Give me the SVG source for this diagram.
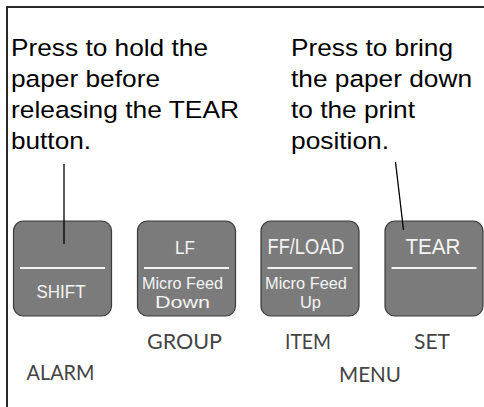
<svg xmlns="http://www.w3.org/2000/svg" width="484" height="407" viewBox="0 0 484 407">
<style>
.note{font-family:"Liberation Sans",Arial,sans-serif;font-size:24.5px;fill:#000}
.btn{fill:#7b7b7b;stroke:#3a3a3a;stroke-width:1.2}
.div{stroke:#f2f2f2;stroke-width:1.8}
.bt{font-family:"Liberation Sans",Arial,sans-serif;fill:#f4f4f4;text-anchor:middle}
.lbl{font-family:Lato,"Liberation Sans",sans-serif;font-size:20.5px;fill:#444;text-anchor:middle}
.con{stroke:#000;stroke-width:1.3;fill:none}
</style>
<rect width="484" height="407" fill="#fff"/>
<g id="frame">
<path d="M7 407 V7 H484" fill="none" stroke="#2a2a2a" stroke-width="2"/>
</g>
<g id="note-shift">
<text class="note" x="11" y="55.5" textLength="197" lengthAdjust="spacingAndGlyphs">Press to hold the</text>
<text class="note" x="11" y="86.5" textLength="149" lengthAdjust="spacingAndGlyphs">paper before</text>
<text class="note" x="11" y="117.5" textLength="228" lengthAdjust="spacingAndGlyphs">releasing the TEAR</text>
<text class="note" x="11" y="148.5" textLength="80" lengthAdjust="spacingAndGlyphs">button.</text>
</g>
<g id="note-tear">
<text class="note" x="291" y="55.5" textLength="162" lengthAdjust="spacingAndGlyphs">Press to bring</text>
<text class="note" x="291" y="86.5" textLength="181" lengthAdjust="spacingAndGlyphs">the paper down</text>
<text class="note" x="291" y="117.5" textLength="124" lengthAdjust="spacingAndGlyphs">to the print</text>
<text class="note" x="291" y="148.5" textLength="98" lengthAdjust="spacingAndGlyphs">position.</text>
</g>
<g id="btn-shift">
<rect class="btn" x="13.5" y="221" width="98" height="95" rx="10"/>
<line class="div" x1="20" y1="268" x2="105" y2="268"/>
<text class="bt" x="61" y="297.5" font-size="17.5" textLength="49" lengthAdjust="spacingAndGlyphs">SHIFT</text>
</g>
<g id="btn-lf">
<rect class="btn" x="137.5" y="221" width="98" height="95" rx="10"/>
<line class="div" x1="144" y1="268" x2="229" y2="268"/>
<text class="bt" x="185" y="254.3" font-size="18.5" textLength="20" lengthAdjust="spacingAndGlyphs">LF</text>
<text class="bt" x="182.5" y="289" font-size="16" textLength="81" lengthAdjust="spacingAndGlyphs">Micro Feed</text>
<text class="bt" x="182.5" y="307.5" font-size="16" textLength="55" lengthAdjust="spacingAndGlyphs">Down</text>
</g>
<g id="btn-ffload">
<rect class="btn" x="261" y="221" width="98" height="95" rx="10"/>
<line class="div" x1="267.5" y1="268" x2="352.5" y2="268"/>
<text class="bt" x="306" y="254" font-size="22" textLength="77" lengthAdjust="spacingAndGlyphs">FF/LOAD</text>
<text class="bt" x="306" y="289" font-size="16" textLength="82" lengthAdjust="spacingAndGlyphs">Micro Feed</text>
<text class="bt" x="310.5" y="307.5" font-size="16" textLength="21" lengthAdjust="spacingAndGlyphs">Up</text>
</g>
<g id="btn-tear">
<rect class="btn" x="385" y="221" width="98" height="95" rx="10"/>
<line class="div" x1="391.5" y1="268" x2="476.5" y2="268"/>
<text class="bt" x="433" y="254" font-size="22.5" textLength="55" lengthAdjust="spacingAndGlyphs">TEAR</text>
</g>
<g id="label-group"><text class="lbl" x="184.5" y="348.5" textLength="75" lengthAdjust="spacingAndGlyphs">GROUP</text></g>
<g id="label-item"><text class="lbl" x="308" y="348.5" textLength="46" lengthAdjust="spacingAndGlyphs">ITEM</text></g>
<g id="label-set"><text class="lbl" x="432" y="348.5" textLength="36" lengthAdjust="spacingAndGlyphs">SET</text></g>
<g id="label-alarm"><text class="lbl" x="60.5" y="380" textLength="68" lengthAdjust="spacingAndGlyphs">ALARM</text></g>
<g id="label-menu"><text class="lbl" x="370" y="381.5" textLength="62" lengthAdjust="spacingAndGlyphs">MENU</text></g>
<g id="connectors">
<line class="con" x1="64" y1="164" x2="64" y2="244"/>
<line class="con" x1="395.5" y1="162" x2="403.5" y2="230"/>
</g>
</svg>
